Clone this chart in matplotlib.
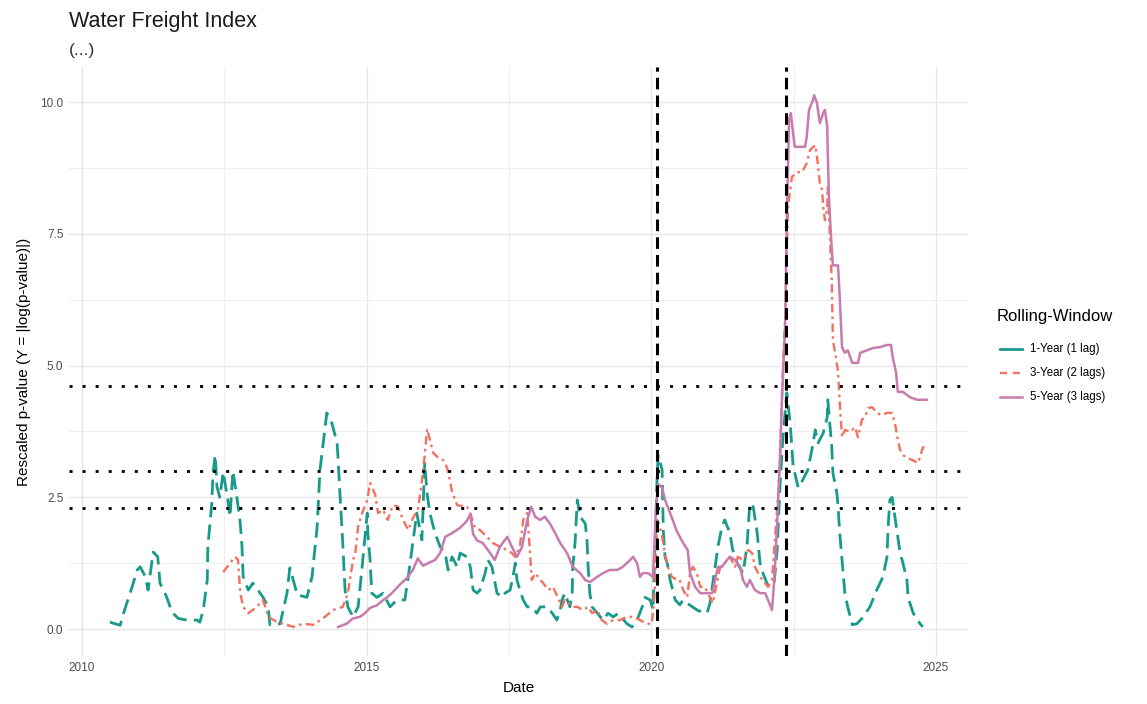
import matplotlib
matplotlib.use("Agg")
import matplotlib.pyplot as plt
from matplotlib.lines import Line2D
from matplotlib.ticker import MultipleLocator

plt.rcParams["font.family"] = ["Liberation Sans", "DejaVu Sans"]

# 1-Year rolling window (1 lag)
yr1_t = [2010.49, 2010.67, 2010.72, 2010.88, 2010.97, 2011.02, 2011.11, 2011.16, 2011.25, 2011.33,
         2011.37, 2011.49, 2011.58, 2011.69, 2011.84, 2012.02, 2012.07, 2012.13, 2012.20, 2012.21,
         2012.28, 2012.30, 2012.34, 2012.37, 2012.42, 2012.48, 2012.56, 2012.60, 2012.65, 2012.72,
         2012.78, 2012.81, 2012.83, 2012.92, 2013.00, 2013.09, 2013.18, 2013.27, 2013.30, 2013.48,
         2013.60, 2013.65, 2013.71, 2013.78, 2013.95, 2014.04, 2014.13, 2014.18, 2014.27, 2014.30,
         2014.39, 2014.48, 2014.50, 2014.53, 2014.58, 2014.62, 2014.67, 2014.76, 2014.85, 2014.92,
         2014.97, 2015.01, 2015.02, 2015.06, 2015.09, 2015.18, 2015.29, 2015.41, 2015.53, 2015.67,
         2015.73, 2015.80, 2015.88, 2015.97, 2016.02, 2016.06, 2016.11, 2016.20, 2016.29, 2016.38,
         2016.43, 2016.50, 2016.59, 2016.64, 2016.76, 2016.82, 2016.87, 2016.94, 2016.99, 2017.08,
         2017.13, 2017.20, 2017.29, 2017.38, 2017.43, 2017.52, 2017.57, 2017.61, 2017.64, 2017.69,
         2017.75, 2017.82, 2017.90, 2017.99, 2018.05, 2018.17, 2018.26, 2018.34, 2018.40, 2018.43,
         2018.48, 2018.57, 2018.61, 2018.62, 2018.66, 2018.70, 2018.75, 2018.84, 2018.87, 2018.89,
         2018.92, 2018.96, 2019.05, 2019.15, 2019.24, 2019.33, 2019.42, 2019.57, 2019.66, 2019.75,
         2019.84, 2019.89, 2019.98, 2020.03, 2020.10, 2020.12, 2020.19, 2020.21, 2020.24, 2020.28,
         2020.33, 2020.42, 2020.50, 2020.56, 2020.68, 2020.82, 2020.98, 2021.03, 2021.12, 2021.17,
         2021.24, 2021.29, 2021.38, 2021.43, 2021.51, 2021.61, 2021.68, 2021.73, 2021.79, 2021.86,
         2021.91, 2021.96, 2022.03, 2022.08, 2022.16, 2022.21, 2022.26, 2022.31, 2022.38, 2022.44,
         2022.49, 2022.58, 2022.66, 2022.75, 2022.82, 2022.88, 2022.93, 2023.02, 2023.09, 2023.10,
         2023.17, 2023.19, 2023.26, 2023.28, 2023.31, 2023.35, 2023.40, 2023.45, 2023.53, 2023.61,
         2023.70, 2023.84, 2023.96, 2024.07, 2024.14, 2024.16, 2024.19, 2024.23, 2024.28, 2024.32,
         2024.37, 2024.42, 2024.49, 2024.51, 2024.60, 2024.72, 2024.77]
yr1_v = [0.13, 0.07, 0.27, 0.80, 1.12, 1.18, 1.00, 0.74, 1.46, 1.37,
         0.87, 0.60, 0.32, 0.20, 0.17, 0.17, 0.13, 0.36, 0.93, 1.56,
         2.39, 2.96, 3.30, 2.70, 2.50, 2.98, 2.45, 2.13, 3.00, 2.50,
         2.00, 1.56, 0.99, 0.74, 0.87, 0.74, 0.60, 0.42, 0.08, 0.10,
         0.68, 1.16, 0.93, 0.65, 0.60, 0.99, 1.94, 3.02, 3.83, 4.10,
         3.90, 3.53, 3.20, 2.58, 1.63, 0.74, 0.42, 0.23, 0.42, 1.18,
         1.75, 2.20, 1.82, 1.31, 0.68, 0.60, 0.68, 0.42, 0.55, 0.55,
         0.99, 1.56, 2.20, 1.69, 3.15, 2.58, 2.20, 1.82, 1.56, 1.44,
         1.12, 1.37, 1.18, 1.44, 1.37, 1.18, 0.74, 0.68, 0.74, 1.06,
         1.31, 1.18, 0.68, 0.60, 0.68, 0.74, 0.99, 1.25, 0.93, 0.74,
         0.55, 0.42, 0.42, 0.30, 0.42, 0.42, 0.30, 0.17, 0.36, 0.55,
         0.68, 0.42, 0.68, 1.18, 1.63, 2.45, 2.13, 2.00, 1.69, 1.18,
         0.68, 0.42, 0.30, 0.17, 0.30, 0.23, 0.30, 0.10, 0.04, 0.17,
         0.42, 0.60, 0.55, 0.36, 2.83, 3.30, 3.02, 1.88, 1.37, 1.25,
         0.93, 0.55, 0.46, 0.55, 0.45, 0.35, 0.30, 0.49, 1.18, 1.56,
         1.94, 2.07, 1.82, 1.50, 1.25, 1.06, 1.56, 2.39, 2.32, 1.82,
         1.25, 1.06, 0.87, 0.80, 0.90, 1.50, 2.70, 3.60, 4.48, 3.90,
         3.10, 2.68, 2.83, 3.02, 3.40, 3.78, 3.53, 3.72, 4.02, 4.35,
         3.45, 2.96, 2.58, 2.32, 1.82, 1.31, 0.68, 0.42, 0.08, 0.10,
         0.20, 0.42, 0.74, 0.99, 1.37, 1.94, 2.45, 2.50, 2.13, 1.82,
         1.44, 1.25, 0.93, 0.60, 0.30, 0.10, 0.04]

# 3-Year rolling window (2 lags)
yr3_t = [2012.48, 2012.60, 2012.69, 2012.74, 2012.78, 2012.83, 2012.92, 2013.00, 2013.13, 2013.18,
         2013.27, 2013.43, 2013.60, 2013.71, 2013.88, 2014.06, 2014.23, 2014.41, 2014.58, 2014.67,
         2014.76, 2014.80, 2014.85, 2014.92, 2015.01, 2015.06, 2015.15, 2015.20, 2015.29, 2015.37,
         2015.46, 2015.55, 2015.64, 2015.73, 2015.81, 2015.90, 2015.97, 2016.02, 2016.06, 2016.11,
         2016.17, 2016.25, 2016.32, 2016.41, 2016.46, 2016.50, 2016.59, 2016.76, 2016.82, 2016.90,
         2016.99, 2017.11, 2017.22, 2017.34, 2017.47, 2017.55, 2017.61, 2017.69, 2017.75, 2017.82,
         2017.87, 2017.90, 2017.96, 2018.01, 2018.10, 2018.19, 2018.27, 2018.36, 2018.43, 2018.48,
         2018.61, 2018.70, 2018.80, 2018.89, 2018.96, 2019.05, 2019.13, 2019.22, 2019.33, 2019.45,
         2019.57, 2019.68, 2019.80, 2019.92, 2020.01, 2020.06, 2020.10, 2020.15, 2020.19, 2020.24,
         2020.29, 2020.36, 2020.45, 2020.50, 2020.56, 2020.63, 2020.68, 2020.73, 2020.80, 2020.86,
         2020.94, 2021.03, 2021.08, 2021.15, 2021.21, 2021.29, 2021.38, 2021.47, 2021.52, 2021.61,
         2021.70, 2021.77, 2021.82, 2021.91, 2022.00, 2022.05, 2022.12, 2022.17, 2022.23, 2022.26,
         2022.31, 2022.35, 2022.40, 2022.47, 2022.56, 2022.65, 2022.73, 2022.79, 2022.88, 2022.91,
         2022.93, 2022.96, 2023.00, 2023.02, 2023.05, 2023.09, 2023.10, 2023.14, 2023.17, 2023.19,
         2023.23, 2023.28, 2023.31, 2023.35, 2023.40, 2023.49, 2023.58, 2023.63, 2023.70, 2023.75,
         2023.81, 2023.88, 2023.96, 2024.05, 2024.14, 2024.23, 2024.28, 2024.33, 2024.37, 2024.42,
         2024.51, 2024.60, 2024.68, 2024.72, 2024.77, 2024.84]
yr3_v = [1.08, 1.25, 1.37, 1.31, 0.68, 0.42, 0.30, 0.36, 0.49, 0.55,
         0.23, 0.13, 0.08, 0.04, 0.10, 0.08, 0.20, 0.36, 0.42, 0.68,
         1.31, 1.44, 1.94, 2.20, 2.45, 2.77, 2.55, 2.20, 2.26, 2.07,
         2.35, 2.32, 2.07, 1.88, 2.10, 2.26, 2.80, 3.30, 3.80, 3.59,
         3.34, 3.26, 3.24, 3.07, 2.83, 2.60, 2.35, 2.32, 2.20, 1.92,
         1.88, 1.75, 1.63, 1.56, 1.50, 1.44, 1.37, 1.56, 2.07, 2.20,
         1.44, 0.93, 1.06, 0.99, 0.87, 0.74, 0.80, 0.60, 0.42, 0.55,
         0.42, 0.42, 0.36, 0.42, 0.30, 0.36, 0.17, 0.10, 0.17, 0.17,
         0.23, 0.23, 0.17, 0.10, 0.10, 0.68, 2.07, 1.94, 1.75, 1.44,
         1.18, 0.99, 0.93, 0.93, 0.74, 0.60, 1.06, 1.18, 1.06, 0.80,
         0.80, 0.60, 0.49, 0.87, 1.18, 1.25, 1.37, 1.18, 1.37, 1.31,
         1.50, 1.44, 1.18, 0.99, 0.87, 0.80, 0.93, 1.69, 2.58, 3.26,
         4.91, 5.86, 8.00, 8.58, 8.67, 8.67, 8.84, 9.09, 9.18, 8.96,
         8.77, 8.46, 8.33, 8.00, 7.76, 8.00, 8.39, 7.38, 6.60, 5.48,
         5.24, 4.88, 4.29, 3.64, 3.78, 3.74, 3.83, 3.64, 3.97, 4.02,
         4.19, 4.21, 4.10, 4.06, 4.10, 4.10, 3.90, 3.59, 3.40, 3.30,
         3.24, 3.20, 3.15, 3.26, 3.45, 3.40]

# 5-Year rolling window (3 lags)
yr5_t = [2014.50, 2014.65, 2014.76, 2014.88, 2014.97, 2015.06, 2015.18, 2015.29, 2015.36, 2015.46,
         2015.59, 2015.71, 2015.81, 2015.90, 2015.99, 2016.08, 2016.20, 2016.29, 2016.38, 2016.50,
         2016.64, 2016.76, 2016.82, 2016.87, 2016.94, 2017.04, 2017.17, 2017.25, 2017.34, 2017.47,
         2017.55, 2017.64, 2017.73, 2017.82, 2017.89, 2017.96, 2018.05, 2018.13, 2018.22, 2018.31,
         2018.40, 2018.52, 2018.62, 2018.75, 2018.84, 2018.92, 2019.05, 2019.15, 2019.27, 2019.40,
         2019.50, 2019.63, 2019.68, 2019.75, 2019.80, 2019.85, 2019.94, 2020.03, 2020.08, 2020.12,
         2020.19, 2020.24, 2020.33, 2020.45, 2020.56, 2020.64, 2020.68, 2020.77, 2020.86, 2020.98,
         2021.07, 2021.12, 2021.17, 2021.24, 2021.33, 2021.38, 2021.47, 2021.56, 2021.61, 2021.68,
         2021.73, 2021.82, 2021.91, 2022.00, 2022.05, 2022.12, 2022.16, 2022.21, 2022.26, 2022.30,
         2022.35, 2022.38, 2022.42, 2022.45, 2022.49, 2022.52, 2022.61, 2022.70, 2022.73, 2022.77,
         2022.84, 2022.86, 2022.91, 2022.96, 2023.02, 2023.05, 2023.09, 2023.10, 2023.12, 2023.16,
         2023.19, 2023.28, 2023.31, 2023.35, 2023.40, 2023.45, 2023.53, 2023.63, 2023.67, 2023.79,
         2023.89, 2024.02, 2024.14, 2024.21, 2024.24, 2024.30, 2024.33, 2024.42, 2024.54, 2024.67,
         2024.84]
yr5_v = [0.04, 0.10, 0.20, 0.23, 0.30, 0.40, 0.45, 0.55, 0.60, 0.70,
         0.85, 0.97, 1.12, 1.34, 1.20, 1.25, 1.31, 1.44, 1.75, 1.82,
         1.92, 2.05, 2.18, 1.80, 1.68, 1.63, 1.44, 1.31, 1.56, 1.75,
         1.56, 1.37, 1.56, 2.07, 2.32, 2.13, 2.07, 2.13, 2.00, 1.82,
         1.63, 1.44, 1.18, 1.06, 0.93, 0.89, 0.99, 1.06, 1.12, 1.12,
         1.18, 1.31, 1.37, 1.25, 0.99, 1.06, 1.06, 0.99, 2.26, 2.75,
         2.68, 2.45, 2.20, 1.85, 1.63, 1.50, 1.06, 0.80, 0.68, 0.68,
         0.68, 0.93, 1.18, 1.18, 1.31, 1.37, 1.31, 1.18, 0.93, 0.80,
         0.93, 0.74, 0.68, 0.68, 0.55, 0.36, 0.93, 2.00, 3.26, 4.50,
         5.73, 7.76, 9.66, 9.79, 9.41, 9.15, 9.15, 9.15, 9.34, 9.85,
         10.04, 10.13, 9.98, 9.60, 9.79, 9.85, 9.53, 9.03, 8.20, 7.38,
         6.90, 6.90, 6.30, 5.35, 5.24, 5.29, 5.05, 5.05, 5.24, 5.29,
         5.33, 5.35, 5.39, 5.39, 5.16, 4.86, 4.50, 4.50, 4.40, 4.35,
         4.35]

series_labels = ["1-Year (1 lag)", "3-Year (2 lags)", "5-Year (3 lags)"]
series_colors = ["#189A8A", "#F2715F", "#C77BAE"]

# Significance thresholds: -log(0.01), -log(0.05), -log(0.10)
thresholds = [4.605, 2.996, 2.303]
# Event markers
event_dates = [2020.10, 2022.37]

fig = plt.figure(figsize=(11.47, 7.04), dpi=100)
ax = fig.add_axes([0.0601, 0.0676, 0.7837, 0.8369])

ax.plot(yr1_t, yr1_v, color=series_colors[0], lw=2.0, dashes=(5.5, 2.6), zorder=3)
ax.plot(yr3_t, yr3_v, color=series_colors[1], lw=1.7, dashes=(3.6, 1.8, 1.1, 1.8), zorder=3)
ax.plot(yr5_t, yr5_v, color=series_colors[2], lw=1.8, zorder=3)

for h in thresholds:
    ax.axhline(h, color="black", lw=2.0, dashes=(1.1, 3.6), zorder=4)
for d in event_dates:
    ax.axvline(d, color="black", lw=2.2, dashes=(3.8, 2.0), zorder=4)

ax.set_xlim(2009.77, 2025.56)
ax.set_ylim(-0.52, 10.66)
ax.xaxis.set_minor_locator(MultipleLocator(2.5))
ax.yaxis.set_minor_locator(MultipleLocator(1.25))
ax.set_yticks([0, 2.5, 5, 7.5, 10])
ax.set_yticklabels(["0.0", "2.5", "5.0", "7.5", "10.0"])
ax.set_xticks([2010, 2015, 2020, 2025])
ax.set_xticklabels(["2010", "2015", "2020", "2025"])

ax.grid(which="major", color="#E6E6E6", lw=1.0, zorder=0)
ax.grid(which="minor", color="#EFEFEF", lw=0.7, zorder=0)
ax.set_axisbelow(True)
for s in ax.spines.values():
    s.set_visible(False)
ax.tick_params(which="both", length=0, labelsize=8.5, labelcolor="#4D4D4D", pad=4)

ax.set_xlabel("Date", fontsize=11, color="black", labelpad=5)
ax.set_ylabel("Rescaled p-value (Y = |log(p-value)|)", fontsize=11, color="black", labelpad=7)

fig.text(0.0601, 0.970, "Water Freight Index", fontsize=15.5, ha="left", va="center",
         color="#1A1A1A")
fig.text(0.0601, 0.928, "(...)", fontsize=12.5, ha="left", va="center", color="#333333")

# Legend drawn in figure coordinates
W, H = 1147.0, 704.0
fig.text(997 / W, 1 - 316 / H, "Rolling-Window", fontsize=12, ha="left", va="center")
legend_styles = [dict(lw=2.0), dict(lw=1.7, dashes=(3.0, 2.4)), dict(lw=1.8)]
for i, (lab, col, sty) in enumerate(zip(series_labels, series_colors, legend_styles)):
    yk = 1 - (349 + 24 * i) / H
    fig.add_artist(Line2D([1000 / W, 1022 / W], [yk, yk], color=col,
                          transform=fig.transFigure, **sty))
    fig.text(1030 / W, yk, lab, fontsize=8.3, ha="left", va="center", color="black")

fig.savefig("out.png", dpi=100)
